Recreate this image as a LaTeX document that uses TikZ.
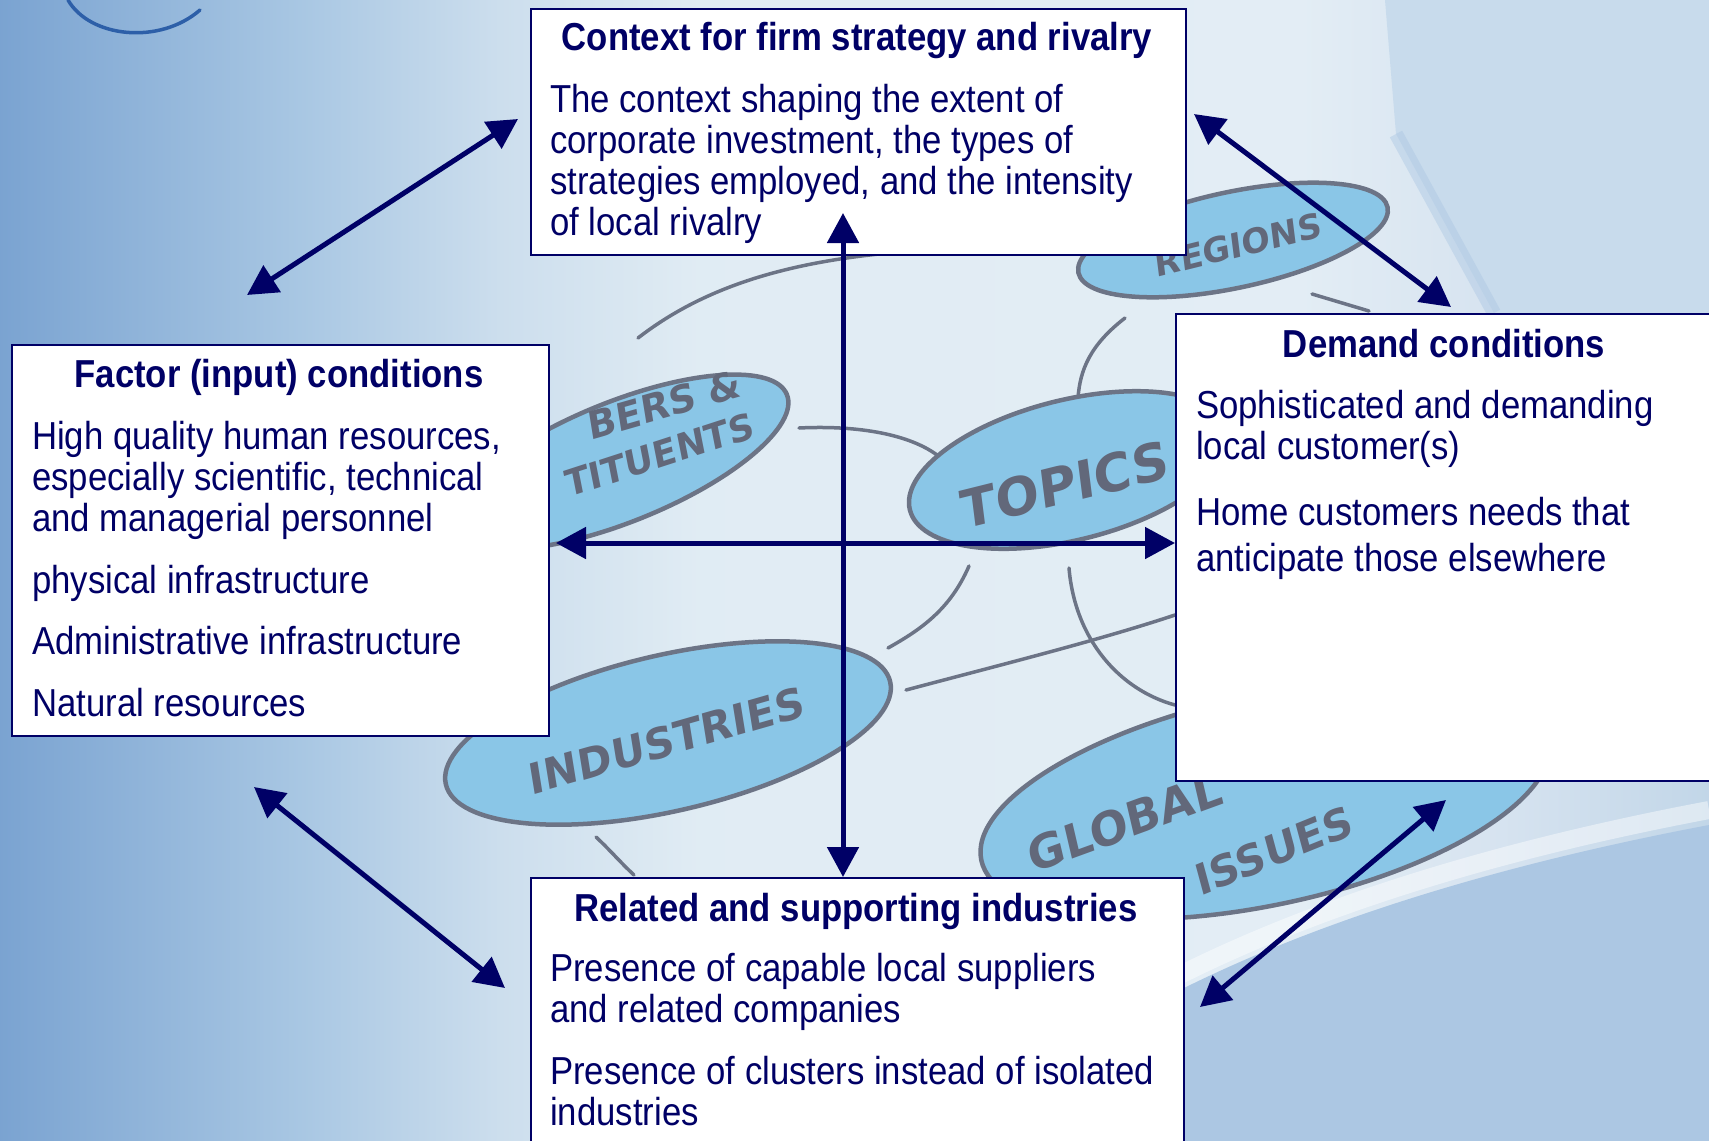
\documentclass[tikz,border=0pt]{standalone}
\usepackage{fontspec}
\setmainfont{Liberation Sans}[FakeStretch=0.89]
\newfontfamily\handfont{DejaVu Sans}[FakeSlant=0.12]
\usetikzlibrary{arrows.meta}
\definecolor{navy}{RGB}{0,0,102}
\definecolor{ellfill}{RGB}{138,198,231}
\definecolor{ellline}{RGB}{108,116,134}
\definecolor{handtxt}{RGB}{98,104,122}
\definecolor{arccol}{RGB}{45,95,168}
\definecolor{paperR}{RGB}{200,219,236}
\definecolor{paperB}{RGB}{172,199,227}
\pgfdeclarehorizontalshading{bgshade}{100bp}{rgb(0bp)=(0.48,0.64,0.82); rgb(25bp)=(0.48,0.64,0.82); rgb(33.8bp)=(0.66,0.78,0.89); rgb(39.6bp)=(0.80,0.87,0.93); rgb(45.5bp)=(0.88,0.925,0.955); rgb(63bp)=(0.89,0.93,0.96); rgb(68.9bp)=(0.84,0.89,0.94); rgb(75bp)=(0.76,0.84,0.91); rgb(100bp)=(0.76,0.84,0.91)}
\tikzset{
  box/.style={draw=navy, line width=2pt, fill=white, inner sep=0pt, anchor=north west},
  ttl/.style={anchor=base, inner sep=0pt, text=navy, font=\bfseries\fontsize{39}{41}\selectfont},
  txt/.style={anchor=base west, inner sep=0pt, text=navy, font=\fontsize{39}{41}\selectfont},
  link/.style={draw=navy, line width=5pt, {Triangle[length=30pt,width=31pt]}-{Triangle[length=30pt,width=31pt]}},
  bubble/.style={draw=ellline, line width=4.5pt, fill=ellfill},
  twig/.style={draw=ellline, line width=3.5pt, line cap=round},
  hand/.style={inner sep=0pt, text=handtxt, font=\handfont\bfseries\fontsize{#1}{#1}\selectfont},
}
\newcommand{\lns}[1]{\begin{tabular}[t]{@{}l@{}}#1\end{tabular}}
\begin{document}
\begin{tikzpicture}[x=1pt,y=-1pt]
\path[use as bounding box] (0,0) rectangle (1709,1141);
\clip (0,0) rectangle (1709,1141);
% background
\shade[shading=bgshade] (0,0) rectangle (1709,1141);
\fill[paperR] (1385,0) -- (1396,134) -- (1494,313) -- (1709,313) -- (1709,0) -- cycle;
\draw[color=paperB, line width=14pt, opacity=0.45] (1396,134) -- (1494,313);
\fill[paperB] (1100,1141) -- (1180,990) .. controls (1350,905) and (1550,855) .. (1709,825) -- (1709,1141) -- cycle;
\draw[white, line width=18pt, opacity=0.45] (1180,975) .. controls (1350,890) and (1550,840) .. (1709,810);
\draw[arccol, line width=3.5pt, line cap=round] (68,0) .. controls (90,38) and (160,45) .. (200,10);
% mind map
\draw[twig] (638,338) .. controls (700,290) and (780,262) .. (900,252);
\draw[twig] (799,428) .. controls (860,425) and (910,435) .. (937,455);
\draw[twig] (1125,318) .. controls (1090,345) and (1080,370) .. (1078,398);
\draw[twig] (1312,294) -- (1369,311);
\draw[twig] (969,566) .. controls (950,610) and (920,630) .. (888,648);
\draw[twig] (1069,568) .. controls (1075,640) and (1120,690) .. (1175,705);
\draw[twig] (906,690) .. controls (1000,665) and (1100,640) .. (1175,615);
\draw[twig] (596,837) .. controls (610,850) and (620,862) .. (634,875);
\draw[bubble, rotate around={12:(1233,240)}] (1233,240) ellipse [x radius=158, y radius=48];
\draw[bubble, rotate around={22:(620,462)}] (620,462) ellipse [x radius=180, y radius=60];
\draw[bubble, rotate around={14:(1070,470)}] (1070,470) ellipse [x radius=165, y radius=70];
\draw[bubble, rotate around={13:(668,733)}] (668,733) ellipse [x radius=228, y radius=78];
\draw[bubble, rotate around={12:(1265,800)}] (1265,800) ellipse [x radius=290, y radius=105];
\node[hand=34, rotate=14] (wreg) at (1237,245) {REGIONS};
\node[hand=38, rotate=16] (wmem1) at (663,405) {BERS \&};
\node[hand=36, rotate=18] (wmem2) at (658,455) {TITUENTS};
\node[hand=52, rotate=14] (wtop) at (1063,485) {TOPICS};
\node[hand=42, rotate=16] (wind) at (665,741) {INDUSTRIES};
\node[hand=46, rotate=20] (wglo) at (1123,823) {GLOBAL};
\node[hand=42, rotate=22] (wiss) at (1272,851) {ISSUES};
% boxes
\node[box, minimum width=655pt, minimum height=246pt] (ctx) at (530,8) {};
\node[box, minimum width=537pt, minimum height=391pt] (fac) at (11,344) {};
\node[box, minimum width=545pt, minimum height=467pt] (dem) at (1175,313) {};
\node[box, minimum width=653pt, minimum height=275pt] (rel) at (530,877) {};
% texts
\node[ttl] (ctxT) at (857,50) {Context for firm strategy and rivalry};
\node[txt] (ctx1) at (550,112) {\lns{The context shaping the extent of\\corporate investment, the types of\\strategies employed, and the intensity\\of local rivalry}};
\node[ttl] (facT) at (279,387) {Factor (input) conditions};
\node[txt] (fac1) at (32,449) {\lns{High quality human resources,\\especially scientific, technical\\and managerial personnel}};
\node[txt] (fac4) at (32,593) {physical infrastructure};
\node[txt] (fac5) at (32,654) {Administrative infrastructure};
\node[txt] (fac6) at (32,716) {Natural resources};
\node[ttl] (demT) at (1444,357) {Demand conditions};
\node[txt] (dem1) at (1196,418) {\lns{Sophisticated and demanding\\local customer(s)}};
\node[txt, font=\fontsize{39}{46}\selectfont] (dem3) at (1196,525) {\lns{Home customers needs that\\anticipate those elsewhere}};
\node[ttl] (relT) at (856,921) {Related and supporting industries};
\node[txt] (rel1) at (550,981) {\lns{Presence of capable local suppliers\\and related companies}};
\node[txt] (rel3) at (550,1084) {\lns{Presence of clusters instead of isolated\\industries}};
% connectors
\coordinate (vtop) at (843,213);
\coordinate (hleft) at (556,543);
\coordinate (tlA) at (247,295);
\coordinate (tlB) at (518,119);
\coordinate (trA) at (1194,114);
\coordinate (trB) at (1451,307);
\coordinate (blA) at (254,787);
\coordinate (blB) at (505,988);
\coordinate (brA) at (1446,800);
\coordinate (brB) at (1200,1007);
\draw[link] (vtop) -- (vtop |- rel.north);
\draw[link] (hleft) -- (hleft -| dem.west);
\draw[link] (tlA) -- (tlB);
\draw[link] (trA) -- (trB);
\draw[link] (blA) -- (blB);
\draw[link] (brA) -- (brB);
\end{tikzpicture}
\end{document}
